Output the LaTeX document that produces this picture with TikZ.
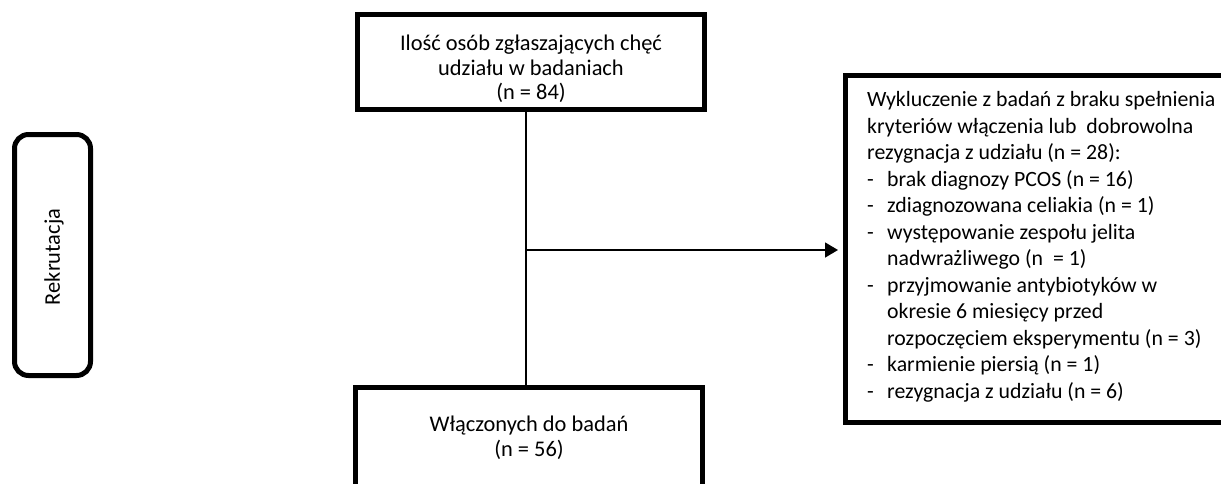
\documentclass[tikz,border=0pt]{standalone}
\usepackage{fontspec}
\setmainfont{Carlito}
\usetikzlibrary{arrows.meta}
\newcommand{\punkt}[1]{\makebox[20pt][l]{-}#1}
\newcommand{\dalej}[1]{\hspace*{20pt}#1}

\begin{document}
\begin{tikzpicture}[x=1pt,y=-1pt,
        box/.style={draw,line width=5pt,inner sep=0pt},
        txt/.style={font=\fontsize{22.4}{24.5}\selectfont,align=center,inner sep=0pt},
        conn/.style={line width=1.5pt}]
        \clip (0,0) rectangle (1221,483);

        \node[box,rounded corners=14pt,minimum width=76pt,minimum height=241pt] (rekr) at (52.5,255) {};
        \node[txt,rotate=90] (rekrtxt) at (54,257) {Rekrutacja};

        \node[box,minimum width=347pt,minimum height=95pt] (zgl) at (531,62) {};
        \node[txt] (zgltxt) at (531,69) {Ilość osób zgłaszających chęć\\udziału w badaniach\\(n = 84)};

        \node[box,minimum width=347pt,minimum height=132.5pt] (wl) at (529,453.75) {};
        \node[txt] (wltxt) at (529,438) {Włączonych do badań\\(n = 56)};

        \node[box,minimum width=414.5pt,minimum height=347pt] (wyk) at (1052.75,249) {};
        \node[txt,align=left,anchor=west,font=\fontsize{21.8}{26.5}\selectfont] (wyktxt) at (867,247)
            {Wykluczenie z badań z braku spełnienia\\
             kryteriów włączenia lub\ \ dobrowolna\\
             rezygnacja z udziału (n = 28):\\
             \punkt{brak diagnozy PCOS (n = 16)}\\
             \punkt{zdiagnozowana celiakia (n = 1)}\\
             \punkt{występowanie zespołu jelita}\\
             \dalej{nadwrażliwego (n\ \ = 1)}\\
             \punkt{przyjmowanie antybiotyków w}\\
             \dalej{okresie 6 miesięcy przed}\\
             \dalej{rozpoczęciem eksperymentu (n = 3)}\\
             \punkt{karmienie piersią (n = 1)}\\
             \punkt{rezygnacja z udziału (n = 6)}};

        \coordinate (rozw) at (526,250);
        \draw[conn] (zgl.south -| rozw) -- (wl.north -| rozw);
        \draw[conn,-{Triangle[length=13pt,width=15pt]},shorten >=5pt] (rozw) -- (wyk.west |- rozw);
    \end{tikzpicture}
\end{document}
